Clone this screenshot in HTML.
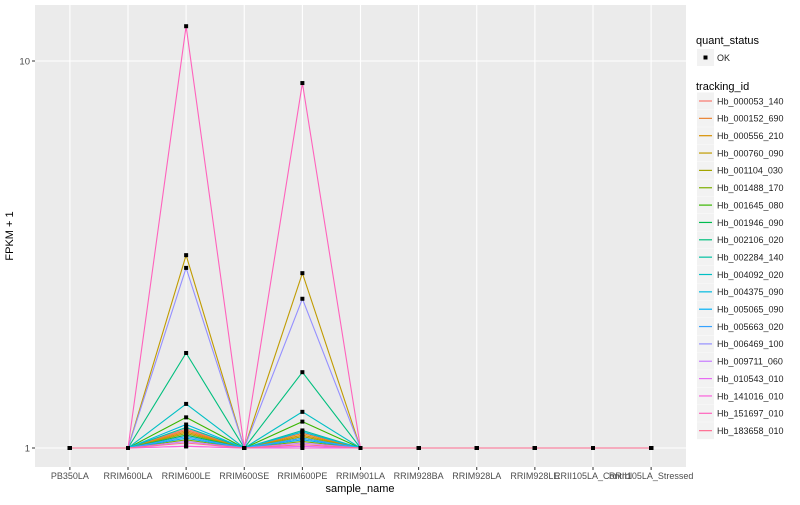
<!DOCTYPE html>
<html><head><meta charset="utf-8"><style>
body{margin:0;background:#fff;font-family:"Liberation Sans",sans-serif;}
svg text{font-family:"Liberation Sans",sans-serif;}
</style></head><body>
<svg id="chart" width="800" height="500" xmlns="http://www.w3.org/2000/svg">
<rect x="0" y="0" width="800" height="500" fill="#fff"/>
<rect x="35" y="5" width="651" height="462" fill="#EBEBEB"/>
<g id="grid"></g>
<g id="series"></g>
<g id="points"></g>
<g id="axes"></g>
<text x="13" y="236" font-size="11" text-anchor="middle" transform="rotate(-90 13 236)" fill="#000">FPKM + 1</text>
<text x="360" y="492" font-size="11" text-anchor="middle" fill="#000">sample_name</text>
<g id="legend">
<text x="696" y="44" font-size="11" fill="#000">quant_status</text>
<rect x="697" y="49" width="17" height="17" fill="#F2F2F2"/>
<rect x="703.5" y="55.5" width="4" height="4" fill="#000"/>
<text x="717" y="61" font-size="9" fill="#222">OK</text>
<text x="696" y="90" font-size="11" fill="#000">tracking_id</text>
</g>
</svg>
<script>
const categories=["PB350LA","RRIM600LA","RRIM600LE","RRIM600SE","RRIM600PE","RRIM901LA","RRIM928BA","RRIM928LA","RRIM928LE","RRII105LA_Control","RRII105LA_Stressed"];
const trackingIds=["Hb_000053_140","Hb_000152_690","Hb_000556_210","Hb_000760_090","Hb_001104_030","Hb_001488_170","Hb_001645_080","Hb_001946_090","Hb_002106_020","Hb_002284_140","Hb_004092_020","Hb_004375_090","Hb_005065_090","Hb_005663_020","Hb_006469_100","Hb_009711_060","Hb_010543_010","Hb_141016_010","Hb_151697_010","Hb_183658_010"];
const colors=["#F8766D","#EA8331","#D89000","#C09B00","#A3A500","#7CAE00","#39B600","#00BB4E","#00BF7D","#00C1A3","#00BFC4","#00BAE0","#00B0F6","#35A2FF","#9590FF","#C77CFF","#E76BF3","#FA62DB","#FF62BC","#FF6C91"];
const valuesLE=[1.12,1.11,1.10,3.15,1.09,1.05,1.20,1.08,1.76,1.13,1.30,1.15,1.06,1.07,2.92,1.04,1.01,1.01,12.3,1.03];
const valuesPE=[1.10,1.09,1.08,2.83,1.07,1.04,1.17,1.06,1.57,1.11,1.24,1.10,1.05,1.06,2.43,1.03,1.01,1.00,8.77,1.02];
const yTicks=[1,10];
const yTickLabels=["1","10"];
const NS="http://www.w3.org/2000/svg";
function mk(t,a,p){const e=document.createElementNS(NS,t);for(const k in a)e.setAttribute(k,a[k]);p.appendChild(e);return e;}
const px0=35,px1=686,step=(px1-px0)/(categories.length-1+1.2);
function xs(i){return px0+0.6*step+i*step;}
function ys(v){return 448-387*Math.log10(v);}
const grid=document.getElementById('grid'),axes=document.getElementById('axes'),ser=document.getElementById('series'),pts=document.getElementById('points'),leg=document.getElementById('legend');
yTicks.forEach((t,i)=>{
 const y=ys(t);
 const g=mk('line',{x1:px0,x2:px1,y1:y,y2:y,stroke:'#fff','stroke-width':1.1},grid);
 
 
 const tk=mk('line',{x1:px0-3,x2:px0,y1:y,y2:y,stroke:'#333','stroke-width':1},axes);
 
 
 const tx=mk('text',{x:px0-5,y:y+3.5,'font-size':9.5,'text-anchor':'end',fill:'#4D4D4D'},axes);
 tx.textContent=yTickLabels[i];
 
 
});
categories.forEach((c,i)=>{
 const x=xs(i);
 const g=mk('line',{x1:x,x2:x,y1:5,y2:467,stroke:'#fff','stroke-width':1.1},grid);
 
 
 const tk=mk('line',{x1:x,x2:x,y1:467,y2:470,stroke:'#333','stroke-width':1},axes);
 
 
 const tx=mk('text',{x:x,y:479,'font-size':9,'text-anchor':'middle',fill:'#4D4D4D'},axes);
 tx.textContent=c;
 
 
});
function seriesValues(s){return categories.map((c,i)=>i===2?valuesLE[s]:(i===4?valuesPE[s]:1));}
const allPts=[];
trackingIds.forEach((id,s)=>{
 const vals=seriesValues(s);
 const d=vals.map((v,i)=>(i?'L':'M')+xs(i).toFixed(1)+','+ys(v).toFixed(1)).join(' ');
 const p=mk('path',{d:d,fill:'none',stroke:colors[s],'stroke-width':1.1},ser);
 
 
 vals.forEach((v,i)=>allPts.push([xs(i),ys(v)]));
 const ly=101+s*17.35;
 const k=mk('rect',{x:697,y:ly-8.5,width:17,height:17,fill:'#F2F2F2'},leg);
 
 
 const kl=mk('line',{x1:699,x2:712,y1:ly,y2:ly,stroke:colors[s],'stroke-width':1.2},leg);
 
 
 const t=mk('text',{x:717,y:ly+3.3,'font-size':9,fill:'#222'},leg);
 t.textContent=id;
 
 
});
allPts.forEach(p=>{
 const r=mk('rect',{x:p[0]-2,y:p[1]-2,width:4,height:4,fill:'#000'},pts);
 
 
});
</script>
</body></html>
